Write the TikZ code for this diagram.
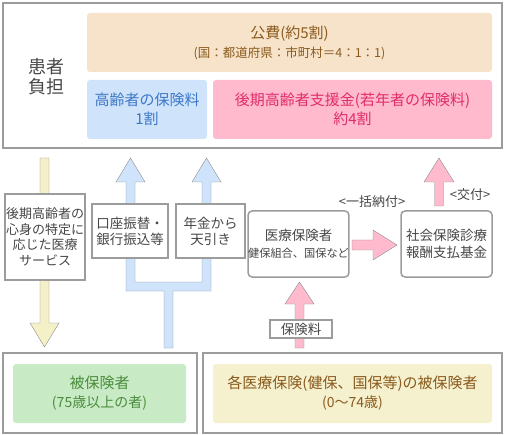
\documentclass[tikz,border=0pt]{standalone}
\usepackage{fontspec}
\setmainfont{Noto Sans CJK JP}
\usetikzlibrary{positioning, backgrounds}
\definecolor{framegray}{HTML}{9C9C9C}
\definecolor{arrowgray}{HTML}{8E8E8E}
\definecolor{textgray}{HTML}{474747}
\definecolor{kohiback}{HTML}{F6E3C9}
\definecolor{kohitext}{HTML}{8A5A1E}
\definecolor{blueback}{HTML}{CFE3FB}
\definecolor{bluetext}{HTML}{3D78C6}
\definecolor{pinkback}{HTML}{FFBACD}
\definecolor{pinktext}{HTML}{DF2D6C}
\definecolor{greenback}{HTML}{C8EBC6}
\definecolor{greentext}{HTML}{4C8C3C}
\definecolor{yellowback}{HTML}{F5F0CD}
\definecolor{yellowarrow}{HTML}{F4F0C8}
\tikzset{every picture/.style={line width=1.5pt}}

\begin{document}
\begin{tikzpicture}[x=1pt,y=-1pt,
  frame/.style={draw=framegray, line width=2pt, inner sep=0pt},
  panel/.style={rounded corners=3pt, inner sep=0pt, align=center,
    font=\fontsize{15}{19}\selectfont},
  whitebox/.style={draw=framegray, fill=white, inner sep=0pt, align=center,
    text=textgray, font=\fontsize{13.5}{16}\selectfont},
  blockarrow/.style={draw=arrowgray, line join=miter},
  note/.style={text=textgray, font=\fontsize{13}{15}\selectfont}]
  \useasboundingbox (0,0) rectangle (505,435);

  % upper part: who pays
  \node[frame, minimum width=499, minimum height=145] (payers) at (252.5,75.5) {};
  \node[text=textgray, align=center, font=\fontsize{18}{20}\selectfont]
    (patient) at (46,77) {患者\\負担};
  \node[panel, fill=kohiback, text=kohitext, minimum width=405, minimum height=59]
    (kohi) at (289.5,42.5) {公費(約5割)\\{\fontsize{12.5}{20}\selectfont (国：都道府県：市町村＝4：1：1)}};
  \node[panel, fill=blueback, text=bluetext, minimum width=120, minimum height=59]
    (elderfee) at (147,109.5) {高齢者の保険料\\1割};
  \node[panel, fill=pinkback, text=pinktext, minimum width=279, minimum height=59]
    (support) at (352.5,109.5) {後期高齢者支援金(若年者の保険料)\\約4割};

  % middle part
  \node[whitebox, minimum width=80, minimum height=86, font=\fontsize{13}{15.5}\selectfont]
    (service) at (45,237) {後期高齢者の\\心身の特定に\\応じた医療\\サービス};
  \node[whitebox, minimum width=76, minimum height=54] (bank) at (130,231) {口座振替・\\銀行振込等};
  \node[whitebox, minimum width=69, minimum height=54] (pension) at (210.5,231) {年金から\\天引き};
  \node[whitebox, rounded corners=4pt, minimum width=97, minimum height=66,
    font=\fontsize{13.5}{17}\selectfont]
    (insurer) at (298.5,244) {医療保険者\\{\fontsize{11.2}{17}\selectfont 健保組合、国保など}};
  \node[whitebox, rounded corners=4pt, minimum width=91, minimum height=66,
    font=\fontsize{13.5}{17}\selectfont]
    (fund) at (446.5,244) {社会保険診療\\報酬支払基金};
  \node[whitebox, minimum width=62, minimum height=18] (premium) at (301,329) {保険料};
  \node[note] (lump) at (372,202) {<一括納付>};
  \node[note] (grant) at (470,195) {<交付>};

  % lower part: the insured
  \node[frame, minimum width=194, minimum height=80] (oldframe) at (100,393) {};
  \node[panel, fill=greenback, text=greentext, minimum width=173, minimum height=59]
    (insured) at (99.5,393.5) {被保険者\\{\fontsize{14}{19}\selectfont (75歳以上の者)}};
  \node[frame, minimum width=299, minimum height=80] (youngframe) at (352.5,393) {};
  \node[panel, fill=yellowback, text=kohitext, minimum width=279, minimum height=59]
    (others) at (352.5,393.5) {各医療保険(健保、国保等)の被保険者\\{\fontsize{14}{19}\selectfont (0〜74歳)}};

  \begin{pgfonlayer}{background}
  \draw[blockarrow, fill=yellowarrow] (40,158) -- (49,158) -- (49,323) -- (59,323)
    -- (44.5,347) -- (30,323) -- (40,323) -- cycle;
  \draw[blockarrow, fill=blueback] (164,348) -- (164,291) -- (126,291) -- (126,182)
    -- (116,182) -- (130.5,158) -- (145,182) -- (135,182) -- (135,282) -- (202,282)
    -- (202,182) -- (192,182) -- (206.5,158) -- (221,182) -- (211,182) -- (211,291)
    -- (173,291) -- (173,348) -- cycle;
  \draw[blockarrow, fill=pinkback] (352,240) -- (373,240) -- (373,230) -- (397,245)
    -- (373,260) -- (373,250) -- (352,250) -- cycle;
  \draw[blockarrow, fill=pinkback] (434.5,206) -- (434.5,182) -- (424,182) -- (439,158)
    -- (454,182) -- (443.5,182) -- (443.5,206) -- cycle;
  \draw[blockarrow, fill=pinkback] (295,348) -- (295,304) -- (285,304) -- (299.5,282)
    -- (314,304) -- (304,304) -- (304,348) -- cycle;
  \end{pgfonlayer}
\end{tikzpicture}
\end{document}
